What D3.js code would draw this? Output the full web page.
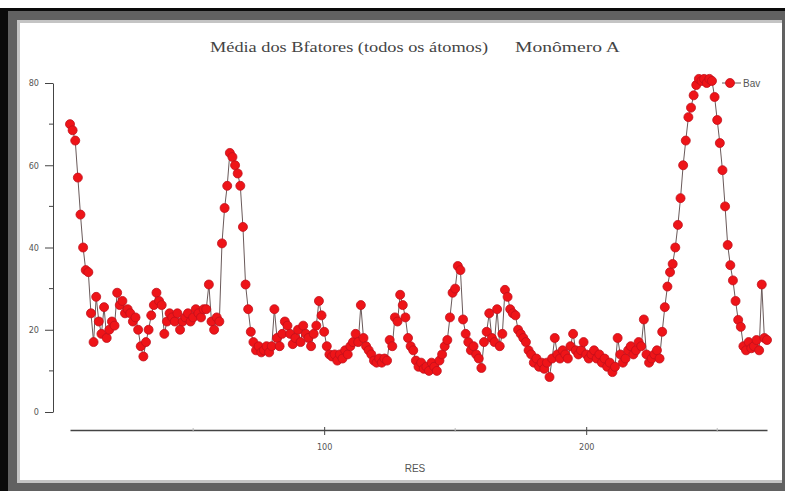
<!DOCTYPE html>
<html>
<head>
<meta charset="utf-8">
<script src="https://cdn.jsdelivr.net/npm/d3@7/dist/d3.min.js"></script>
<style>
  html, body { margin: 0; padding: 0; background: #ffffff; }
  svg { display: block; }
</style>
</head>
<body>
<svg id="chart" width="785" height="491"></svg>
<script>
// Average B-factor per residue (all atoms), monomer A
const firstResidue = 3;
const bav = [
  70, 68.5, 66, 57, 48, 40, 34.5, 34, 24, 17,
  28, 22, 19, 25.5, 18, 20, 22, 21, 29, 26,
  27, 24, 25, 24, 22, 23, 20, 16, 13.5, 17,
  20, 23.5, 26, 29, 27, 26, 19, 22, 24, 23,
  22, 24, 20, 22, 23, 24, 22, 23, 25, 24,
  23, 25, 25, 31, 22, 20, 23, 22, 41, 49.6,
  55, 63, 62, 60, 58, 55, 45, 31, 25, 19.5,
  17, 15, 16, 14.5, 15, 16, 14.5, 16, 25, 18,
  16, 19, 22, 21, 19, 16.5, 18, 20, 17, 21,
  19, 18, 16, 19, 21, 27, 23.5, 19.5, 16, 14,
  13.5, 14, 12.5, 14, 13, 15, 14, 16, 17, 19,
  17, 26, 18, 16, 15, 14, 12.5, 12, 13, 12,
  13, 12.5, 17.5, 16, 23, 22, 28.5, 26, 23, 18,
  16, 15, 12.5, 11, 12, 10.5, 11, 10, 12, 11,
  10, 12.5, 14, 16, 17.5, 23, 29, 30, 35.5, 34.5,
  22.5, 19, 17, 15, 16, 14, 13, 10.7, 17, 19.5,
  24, 18, 17, 25, 16, 19, 29.7, 28, 25, 24,
  23.5, 20, 19, 18, 17, 15, 14, 12, 13, 11,
  12, 10.5, 12, 8.5, 13, 18, 14, 13, 15, 14,
  13, 16, 19, 15, 14, 15, 17, 14, 13, 14,
  15, 13, 14, 12, 13, 11, 12, 9.7, 11, 18,
  14, 12, 13, 15, 16, 14, 15, 17, 16, 22.5,
  14, 12, 13, 14, 15, 13, 19.5, 25.5, 30.5, 34,
  36, 40, 45.5, 52, 60, 66, 71.7, 74, 77, 79.5,
  81, 80.5, 81, 80, 81, 80.5, 76.6, 71, 65.4, 58.8,
  50, 40.6, 35.7, 32, 27, 22.4, 20.7, 16, 15, 17,
  15.5, 16, 17.5, 15, 31, 18, 17.5
];
const residues = d3.range(firstResidue, firstResidue + bav.length);
const points = residues.map((r, i) => ({ res: r, val: bav[i] }));

const yMajorTicks = [0, 20, 40, 60, 80];
const yMinorTicks = [10, 30, 50, 70];
const xMajorTicks = [100, 200];
const xMinorTicks = [50, 150, 250];

const titleLeft = "Média dos Bfatores (todos os átomos)";
const titleRight = "Monômero A";
const xLabel = "RES";
const seriesName = "Bav";

const svg = d3.select("#chart");

// window frame
svg.append("rect").attr("x", 0).attr("y", 8).attr("width", 785).attr("height", 483).attr("fill", "#0a0a0a");
svg.append("rect").attr("x", 8).attr("y", 11).attr("width", 777).attr("height", 480).attr("fill", "#616161");
svg.append("rect").attr("x", 17).attr("y", 20).attr("width", 765).attr("height", 463).attr("fill", "#c4c4c4");
svg.append("rect").attr("x", 20).attr("y", 23).attr("width", 762).attr("height", 457).attr("fill", "#ffffff");

const x = d3.scaleLinear().domain([firstResidue, residues[residues.length - 1]]).range([70, 767]);
const y = d3.scaleLinear().domain([0, 80]).range([412, 83]);

// title
const titleG = svg.append("g")
  .attr("font-family", "'Liberation Serif', 'Times New Roman', serif")
  .attr("font-size", 14)
  .attr("fill", "#444");
titleG.append("text").attr("x", 210).attr("y", 52)
  .attr("textLength", 278).attr("lengthAdjust", "spacingAndGlyphs").text(titleLeft);
titleG.append("text").attr("x", 515).attr("y", 52)
  .attr("textLength", 105).attr("lengthAdjust", "spacingAndGlyphs").text(titleRight);

// y axis with minor ticks
const yAxis = svg.append("g").attr("transform", "translate(53,0)");
yAxis.call(d3.axisLeft(y).tickValues(yMajorTicks).tickSize(8).tickSizeOuter(0).tickPadding(6).tickFormat(d3.format("d")));
yAxis.append("g").selectAll("line").data(yMinorTicks).join("line")
  .attr("x1", -4).attr("x2", 0)
  .attr("y1", d => y(d)).attr("y2", d => y(d))
  .attr("stroke", "#444");
yAxis.select(".domain").attr("stroke", "#444");
yAxis.selectAll(".tick line").attr("stroke", "#444");
yAxis.selectAll(".tick text")
  .attr("font-family", "'DejaVu Sans Condensed', 'Liberation Sans', sans-serif")
  .attr("font-size", 9).attr("fill", "#555");

// x axis with faint minor ticks
const xAxis = svg.append("g").attr("transform", "translate(0,430)");
xAxis.call(d3.axisBottom(x).tickValues(xMajorTicks).tickSize(5).tickSizeOuter(0).tickPadding(9).tickFormat(d3.format("d")));
xAxis.select(".domain").attr("stroke", "#444").attr("stroke-width", 1.3);
xAxis.selectAll(".tick line").attr("y1", -3).attr("y2", 5).attr("stroke", "#444");
xAxis.selectAll(".tick text")
  .attr("font-family", "'DejaVu Sans Condensed', 'Liberation Sans', sans-serif")
  .attr("font-size", 9).attr("fill", "#555");
xAxis.append("g").selectAll("line").data(xMinorTicks).join("line")
  .attr("x1", d => x(d)).attr("x2", d => x(d))
  .attr("y1", -2).attr("y2", 2)
  .attr("stroke", "#bbb");

svg.append("text").attr("x", 415).attr("y", 472)
  .attr("text-anchor", "middle")
  .attr("font-family", "'Liberation Sans', Arial, sans-serif")
  .attr("font-size", 10).attr("fill", "#555")
  .text(xLabel);

// series line and markers
const line = d3.line().x(d => x(d.res)).y(d => y(d.val));
svg.append("path").datum(points)
  .attr("d", line)
  .attr("fill", "none")
  .attr("stroke", "#6a5a5a")
  .attr("stroke-width", 1);

svg.append("g").selectAll("circle").data(points).join("circle")
  .attr("cx", d => x(d.res)).attr("cy", d => y(d.val))
  .attr("r", 4.5)
  .attr("fill", "#ee1418")
  .attr("stroke", "#c0101c")
  .attr("stroke-width", 0.8);

// legend
const legend = svg.append("g").attr("transform", "translate(0,83)");
legend.append("line").attr("x1", 722).attr("x2", 741).attr("y1", 0).attr("y2", 0)
  .attr("stroke", "#6a5a5a");
legend.append("circle").attr("cx", 730).attr("cy", 0).attr("r", 4.5)
  .attr("fill", "#ee1418").attr("stroke", "#c0101c").attr("stroke-width", 0.8);
legend.append("text").attr("x", 743).attr("y", 4)
  .attr("font-family", "'Liberation Sans', Arial, sans-serif")
  .attr("font-size", 10).attr("fill", "#555")
  .text(seriesName);
</script>
</body>
</html>
